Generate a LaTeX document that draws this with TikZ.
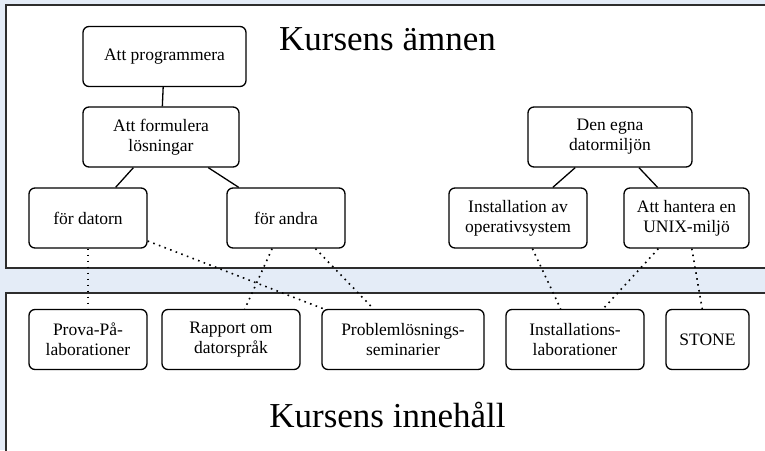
\documentclass[tikz,border=0pt]{standalone}
\usepackage{fontspec}
\setmainfont{Liberation Serif}
\usepackage{tikz}
\usetikzlibrary{positioning}
\definecolor{bandblue}{RGB}{228,236,247}
\definecolor{panelgray}{RGB}{45,45,45}

\begin{document}
\begin{tikzpicture}[x=1pt,y=-1pt,node distance=81pt,on grid,
    topic/.style={draw,rounded corners=6pt,minimum height=60pt,align=center,
      line width=1.3pt,fill=white,font=\fontsize{17.5}{20}\selectfont},
    heading/.style={anchor=base,font=\fontsize{35}{40}\selectfont},
    link/.style={line width=1.3pt},
    dots/.style={line width=1.6pt,dash pattern=on 1.6pt off 4.4pt}]
            \clip (0,0) rectangle (765,450);
            \fill[bandblue] (0,0) rectangle (765,450);
            \draw[panelgray,line width=1.6pt,fill=white] (6,5) rectangle (790,268);
            \draw[panelgray,line width=1.6pt,fill=white] (6,293) rectangle (790,470);
            \node[heading] (amnen) at (387.5,50) {Kursens ämnen};
            \node[heading] (innehall) at (387.5,427) {Kursens innehåll};
            % kursens ämnen
            \node[topic,minimum width=163pt] (prog) at (164.5,56.5) {Att programmera};
            \node[topic,minimum width=156pt] (form) [below left=80.5pt and 3.5pt of prog] {Att formulera\\lösningar};
            \node[topic,minimum width=118pt] (datorn) [below left=81pt and 73pt of form] {för datorn};
            \node[topic,minimum width=118pt] (andra) [below right=81pt and 125pt of form] {för andra};
            \node[topic,minimum width=164pt] (egna) at (610,137) {Den egna\\datormiljön};
            \node[topic,minimum width=138pt] (inst) [below left=81pt and 92pt of egna] {Installation av\\operativsystem};
            \node[topic,minimum width=125pt] (unix) [below right=81pt and 76.5pt of egna] {Att hantera en\\UNIX-miljö};
            % kursens innehåll
            \node[topic,minimum width=118pt] (prova) [below=121.5pt of datorn] {Prova-På-\\laborationer};
            \node[topic,minimum width=138pt] (rapport) [right=143pt of prova] {Rapport om\\datorspråk};
            \node[topic,minimum width=162pt] (problem) [right=172pt of rapport] {Problemlösnings-\\seminarier};
            \node[topic,minimum width=138pt] (instlab) [right=172pt of problem] {Installations-\\laborationer};
            \node[topic,minimum width=83pt] (stone) [right=132.5pt of instlab] {STONE};
            \path[link]
                (prog) edge (form)
                (form) edge (datorn)
                edge (andra)
                (egna) edge (inst)
                edge (unix);
            \path[dots]
                (datorn) edge (prova)
                edge (problem)
                (andra) edge (rapport)
                edge (problem)
                (inst) edge (instlab)
                (unix) edge (instlab)
                edge (stone);
        \end{tikzpicture}
\end{document}
